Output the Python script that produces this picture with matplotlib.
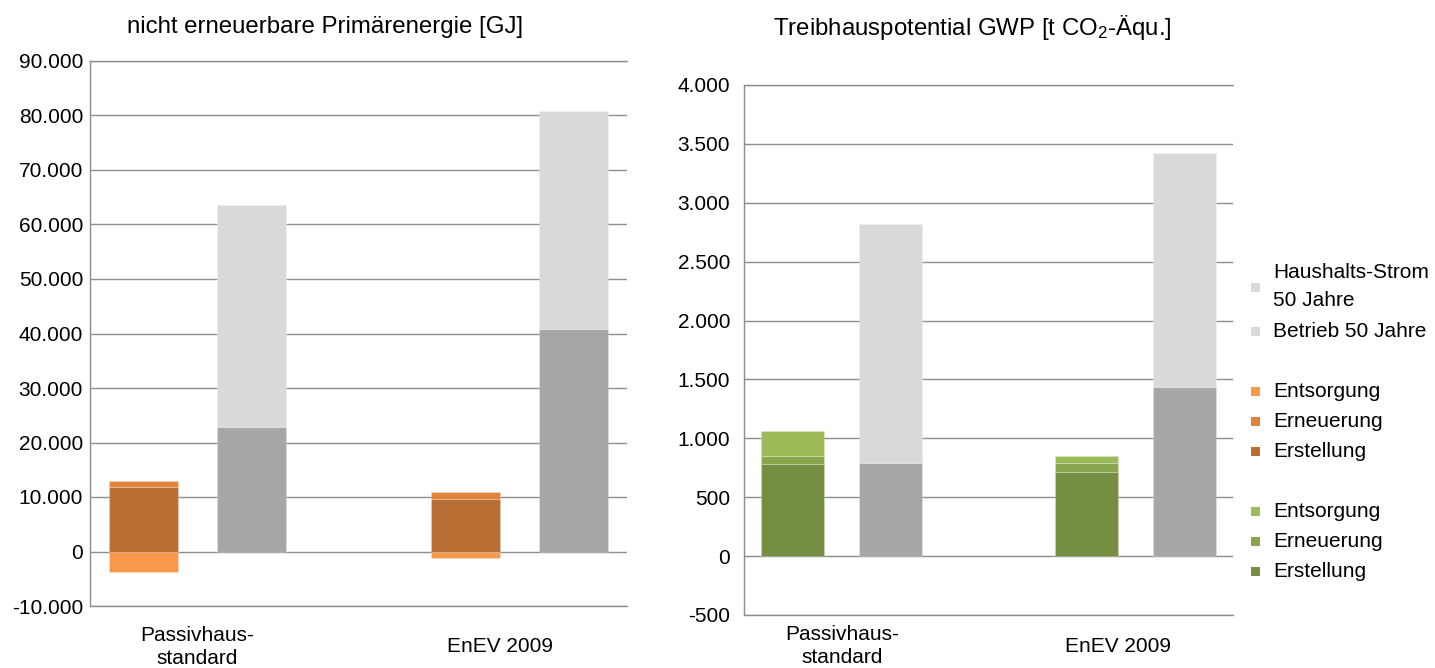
import matplotlib
matplotlib.use("Agg")
import matplotlib.pyplot as plt
from matplotlib.patches import Rectangle
from matplotlib.ticker import FuncFormatter, MultipleLocator
import numpy as np

plt.rcParams['font.family'] = ['Liberation Sans', 'DejaVu Sans']
plt.rcParams['mathtext.fontset'] = 'custom'
plt.rcParams['mathtext.rm'] = 'Liberation Sans'
plt.rcParams['mathtext.it'] = 'Liberation Sans'

# ---------------- data ----------------
categories = ["Passivhaus-\nstandard", "EnEV 2009"]

# nicht erneuerbare Primärenergie [GJ]
pe_erstellung = [11900, 9650]
pe_erneuerung = [1030, 1210]
pe_entsorgung = [-3850, -1150]
pe_betrieb = [22800, 40800]
pe_haushalt = [40800, 40050]

# Treibhauspotential GWP [t CO2-Äqu.]
gwp_erstellung = [778, 713]
gwp_erneuerung = [74, 77]
gwp_entsorgung = [212, 62]
gwp_betrieb = [793, 1432]
gwp_haushalt = [2031, 1988]

legend_labels = ["Haushalts-Strom\n50 Jahre", "Betrieb 50 Jahre",
                 "Entsorgung", "Erneuerung", "Erstellung",
                 "Entsorgung", "Erneuerung", "Erstellung"]

# ---------------- styles ----------------
C_ORANGE = ["#B96F33", "#DF843A", "#F7984A"]   # Erstellung, Erneuerung, Entsorgung
C_GREEN = ["#768E42", "#8AA64D", "#9DBB59"]
C_GREY = ["#A6A6A6", "#D9D9D9"]
GRIDC = "#8E8E8E"
FS = 15
FS_TITLE = 17.3

W, H = 1435, 668
fig = plt.figure(figsize=(W / 100, H / 100), dpi=100)


def px_axes(x0, y0, x1, y1):
    return fig.add_axes([x0 / W, 1 - y1 / H, (x1 - x0) / W, (y1 - y0) / H])


def fmt(v, pos):
    return f"{int(round(v)):,}".replace(",", ".")


def stack(ax, xpos, series, colors, width):
    pos_cum = np.zeros(len(xpos))
    neg_cum = np.zeros(len(xpos))
    for vals, c in zip(series, colors):
        vals = np.asarray(vals, dtype=float)
        bottom = np.where(vals >= 0, pos_cum, neg_cum)
        ax.bar(xpos, vals, width=width, bottom=bottom, color=c,
               edgecolor=(1, 1, 1, 0.2), linewidth=0.8, zorder=3)
        pos_cum = pos_cum + np.where(vals >= 0, vals, 0)
        neg_cum = neg_cum + np.where(vals < 0, vals, 0)


def setup(ax, ylim, step, ypad, xpad):
    ax.set_xlim(-1 / 3, 4 / 3)
    ax.set_ylim(*ylim)
    ax.yaxis.set_major_locator(MultipleLocator(step))
    ax.yaxis.set_major_formatter(FuncFormatter(fmt))
    ax.grid(axis='y', color=GRIDC, linewidth=1.0, zorder=0)
    ax.set_axisbelow(True)
    ax.spines['right'].set_visible(False)
    for s in ['left', 'top', 'bottom']:
        ax.spines[s].set_color(GRIDC)
        ax.spines[s].set_linewidth(1.0)
    ax.tick_params(axis='y', length=0, pad=ypad, labelsize=FS)
    ax.tick_params(axis='x', length=0, pad=xpad, labelsize=FS)
    idx = np.arange(len(categories))
    ax.set_xticks(idx * 0.94)
    ax.set_xticklabels(categories, linespacing=1.25, va='center')


idx = np.arange(len(categories))
bw = 0.215
off = 0.167

# ---------------- left chart ----------------
ax1 = px_axes(90, 61, 627, 606)
stack(ax1, idx - off, [pe_erstellung, pe_erneuerung, pe_entsorgung], C_ORANGE, bw)
stack(ax1, idx + off, [pe_betrieb, pe_haushalt], C_GREY, bw)
setup(ax1, (-10000, 90000), 10000, 5.0, 29.5)
fig.text(325 / W, 1 - 27 / H, "nicht erneuerbare Primärenergie [GJ]",
         ha='center', va='center', fontsize=FS_TITLE)

# ---------------- right chart ----------------
ax2 = px_axes(744, 85, 1233, 615)
stack(ax2, idx - off, [gwp_erstellung, gwp_erneuerung, gwp_entsorgung], C_GREEN, bw)
stack(ax2, idx + off, [gwp_betrieb, gwp_haushalt], C_GREY, bw)
setup(ax2, (-500, 4000), 500, 10.0, 22.5)
fig.text(972 / W, 1 - 27 / H, "Treibhauspotential GWP [t CO$_2$-Äqu.]",
         ha='center', va='center', fontsize=FS_TITLE)

# ---------------- legend ----------------
leg_colors = [C_GREY[1], C_GREY[1], C_ORANGE[2], C_ORANGE[1], C_ORANGE[0],
              C_GREEN[2], C_GREEN[1], C_GREEN[0]]
text_y = [287, 331.5, 391.5, 421.5, 451.5, 511.5, 541.5, 571.5]
sq = 9
for lab, c, y in zip(legend_labels, leg_colors, text_y):
    fig.add_artist(Rectangle(((1255 - sq / 2) / W, 1 - (y + sq / 2) / H), sq / W, sq / H,
                             transform=fig.transFigure, facecolor=c, edgecolor='none'))
    fig.text(1273 / W, 1 - y / H, lab, ha='left', va='center', fontsize=FS,
             linespacing=1.6)

fig.savefig("out.png", dpi=100)
